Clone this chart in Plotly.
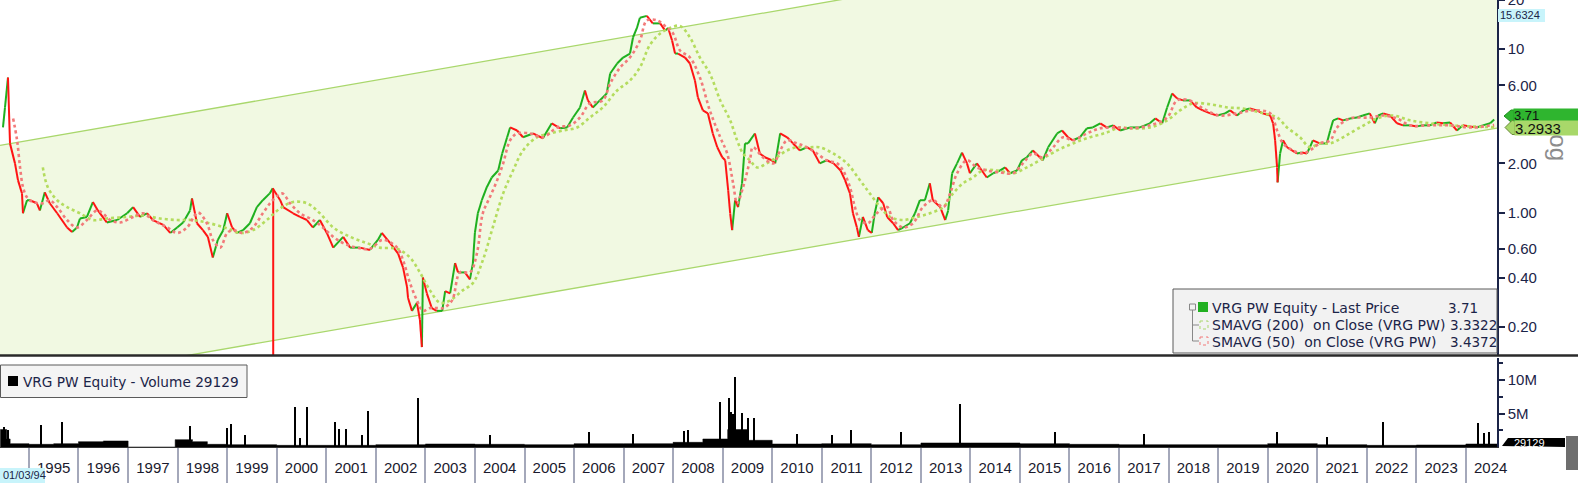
import math
from datetime import datetime
import plotly.graph_objects as go

W, H = 1578, 483

# ---------------- data (decimal years / prices) ----------------
price_t = [1994.475, 1994.516, 1994.576, 1994.617, 1994.718, 1994.778, 1994.859, 1994.879, 1994.96, 1995.02,
           1995.16, 1995.22, 1995.32, 1995.42, 1995.57, 1995.77, 1995.87, 1995.97, 1996.03, 1996.17,
           1996.29, 1996.39, 1996.57, 1996.78, 1996.98, 1997.10, 1997.24, 1997.38, 1997.50, 1997.71,
           1997.85, 1997.99, 1998.11, 1998.25, 1998.29, 1998.39, 1998.51, 1998.61, 1998.71, 1998.81,
           1998.92, 1999.00, 1999.10, 1999.20, 1999.32, 1999.46, 1999.60, 1999.72, 1999.86, 1999.92,
           2000.07, 2000.13, 2000.33, 2000.47, 2000.61, 2000.73, 2000.87, 2001.01, 2001.14, 2001.34,
           2001.48, 2001.68, 2001.88, 2002.04, 2002.12, 2002.29, 2002.45, 2002.55, 2002.63, 2002.65,
           2002.73, 2002.83, 2002.89, 2002.93, 2002.95, 2003.03, 2003.13, 2003.23, 2003.34, 2003.40,
           2003.50, 2003.60, 2003.66, 2003.80, 2003.90, 2003.96, 2004.00, 2004.06, 2004.14, 2004.24,
           2004.34, 2004.47, 2004.55, 2004.65, 2004.71, 2004.85, 2004.97, 2005.17, 2005.37, 2005.55,
           2005.72, 2005.86, 2005.98, 2006.12, 2006.22, 2006.28, 2006.38, 2006.52, 2006.66, 2006.73,
           2006.87, 2006.99, 2007.13, 2007.19, 2007.27, 2007.33, 2007.47, 2007.59, 2007.74, 2007.84,
           2007.90, 2007.98, 2008.04, 2008.10, 2008.24, 2008.34, 2008.44, 2008.50, 2008.60, 2008.70,
           2008.80, 2008.89, 2008.99, 2009.05, 2009.11, 2009.15, 2009.19, 2009.25, 2009.31, 2009.39,
           2009.45, 2009.51, 2009.65, 2009.75, 2009.85, 2009.99, 2010.06, 2010.16, 2010.30, 2010.42,
           2010.56, 2010.70, 2010.82, 2010.96, 2011.10, 2011.24, 2011.38, 2011.47, 2011.57, 2011.63,
           2011.71, 2011.75, 2011.83, 2011.93, 2012.01, 2012.07, 2012.14, 2012.24, 2012.32, 2012.44,
           2012.54, 2012.64, 2012.78, 2012.88, 2012.98, 2013.08, 2013.18, 2013.24, 2013.39, 2013.49,
           2013.55, 2013.63, 2013.73, 2013.83, 2013.93, 2013.99, 2014.13, 2014.23, 2014.33, 2014.46,
           2014.60, 2014.70, 2014.80, 2014.94, 2015.04, 2015.14, 2015.26, 2015.40, 2015.46, 2015.57,
           2015.75, 2015.85, 2015.97, 2016.07, 2016.21, 2016.35, 2016.47, 2016.62, 2016.75, 2016.88,
           2017.02, 2017.22, 2017.42, 2017.62, 2017.73, 2017.87, 2017.97, 2018.07, 2018.17, 2018.29,
           2018.43, 2018.57, 2018.69, 2018.84, 2018.98, 2019.14, 2019.24, 2019.38, 2019.50, 2019.64,
           2019.78, 2019.90, 2020.05, 2020.11, 2020.15, 2020.19, 2020.20, 2020.25, 2020.31, 2020.39,
           2020.49, 2020.59, 2020.69, 2020.79, 2020.85, 2020.91, 2021.05, 2021.19, 2021.26, 2021.32,
           2021.42, 2021.52, 2021.66, 2021.80, 2021.92, 2022.06, 2022.16, 2022.23, 2022.33, 2022.47,
           2022.61, 2022.73, 2022.87, 2023.01, 2023.13, 2023.27, 2023.41, 2023.54, 2023.68, 2023.82,
           2023.94, 2024.08, 2024.22, 2024.34, 2024.49, 2024.57]
price_v = [3.32, 4.40, 6.71, 2.65, 2.00, 1.58, 1.31, 0.99, 1.19, 1.19,
           1.14, 1.03, 1.33, 1.14, 0.99, 0.81, 0.76, 0.81, 0.92, 0.94,
           1.16, 1.03, 0.87, 0.90, 0.99, 1.08, 0.94, 0.99, 0.90, 0.84,
           0.75, 0.81, 0.87, 1.03, 1.22, 0.86, 0.78, 0.71, 0.53, 0.68,
           0.78, 0.99, 0.81, 0.75, 0.78, 0.86, 1.08, 1.19, 1.31, 1.41,
           1.19, 1.08, 0.99, 0.94, 0.90, 0.81, 0.90, 0.75, 0.61, 0.71,
           0.61, 0.61, 0.59, 0.68, 0.75, 0.65, 0.56, 0.46, 0.35, 0.30,
           0.25, 0.28, 0.22, 0.15, 0.40, 0.32, 0.26, 0.25, 0.25, 0.33,
           0.32, 0.49, 0.43, 0.43, 0.39, 0.49, 0.75, 0.99, 1.19, 1.43,
           1.64, 1.81, 2.30, 2.89, 3.32, 3.18, 2.89, 3.05, 2.85, 3.52,
           3.28, 3.32, 3.82, 4.40, 5.59, 4.86, 4.40, 4.86, 5.36, 7.10,
           8.18, 8.90, 9.41, 11.8, 13.5, 15.6, 16.0, 14.4, 14.4, 13.0,
           13.5, 11.3, 9.41, 9.41, 8.90, 8.18, 6.44, 5.07, 4.22, 4.05,
           3.05, 2.51, 2.18, 2.09, 1.37, 0.99, 0.78, 1.19, 1.08, 1.51,
           2.65, 2.65, 3.05, 2.30, 2.18, 2.09, 2.00, 3.05, 2.89, 2.65,
           2.40, 2.51, 2.40, 2.00, 2.09, 2.00, 1.81, 1.58, 1.31, 0.99,
           0.81, 0.71, 0.94, 0.78, 0.75, 0.99, 1.24, 1.14, 0.94, 0.86,
           0.78, 0.81, 0.86, 0.99, 1.19, 1.19, 1.51, 1.19, 1.08, 0.90,
           1.03, 1.74, 2.00, 2.33, 2.00, 1.74, 2.00, 1.81, 1.64, 1.74,
           1.81, 1.89, 1.74, 1.81, 2.09, 2.18, 2.40, 2.18, 2.09, 2.51,
           3.05, 3.18, 2.89, 2.77, 2.89, 3.28, 3.32, 3.52, 3.32, 3.42,
           3.18, 3.32, 3.32, 3.52, 3.77, 3.52, 4.40, 5.36, 5.00, 4.86,
           4.86, 4.40, 4.22, 4.05, 3.93, 4.05, 4.22, 3.93, 4.22, 4.34,
           4.22, 4.05, 3.93, 3.52, 2.77, 1.89, 1.53, 2.30, 2.77, 2.51,
           2.40, 2.30, 2.33, 2.30, 2.51, 2.77, 2.65, 2.65, 3.18, 3.67,
           3.77, 3.67, 3.77, 3.82, 3.93, 4.05, 3.52, 3.93, 4.05, 3.93,
           3.52, 3.42, 3.42, 3.37, 3.42, 3.42, 3.56, 3.52, 3.56, 3.18,
           3.42, 3.37, 3.32, 3.42, 3.52, 3.71]

sma50_t = [1994.68, 1994.76, 1994.82, 1994.88, 1994.96, 1995.08, 1995.28, 1995.42, 1995.57, 1995.77,
           1995.97, 1996.17, 1996.37, 1996.49, 1996.64, 1996.84, 1997.10, 1997.30, 1997.50, 1997.79,
           1997.99, 1998.19, 1998.41, 1998.59, 1998.71, 1998.86, 1999.00, 1999.12, 1999.32, 1999.52,
           1999.72, 1999.92, 2000.11, 2000.27, 2000.47, 2000.73, 2000.93, 2001.14, 2001.34, 2001.62,
           2001.88, 2002.14, 2002.43, 2002.55, 2002.69, 2002.83, 2002.95, 2003.09, 2003.23, 2003.36,
           2003.54, 2003.70, 2003.90, 2004.04, 2004.16, 2004.30, 2004.45, 2004.57, 2004.71, 2004.85,
           2005.11, 2005.37, 2005.66, 2005.92, 2006.12, 2006.32, 2006.58, 2006.73, 2006.93, 2007.13,
           2007.33, 2007.47, 2007.68, 2007.88, 2008.00, 2008.14, 2008.34, 2008.54, 2008.74, 2008.95,
           2009.09, 2009.21, 2009.29, 2009.41, 2009.55, 2009.61, 2009.81, 2010.02, 2010.16, 2010.30,
           2010.50, 2010.70, 2010.90, 2011.10, 2011.31, 2011.43, 2011.57, 2011.67, 2011.77, 2011.93,
           2012.11, 2012.32, 2012.44, 2012.64, 2012.84, 2013.04, 2013.24, 2013.45, 2013.59, 2013.73,
           2013.93, 2014.13, 2014.33, 2014.60, 2014.86, 2015.06, 2015.26, 2015.46, 2015.67, 2015.87,
           2016.07, 2016.35, 2016.62, 2016.96, 2017.22, 2017.62, 2017.97, 2018.17, 2018.43, 2018.69,
           2019.04, 2019.38, 2019.70, 2020.05, 2020.19, 2020.31, 2020.51, 2020.71, 2020.85, 2021.05,
           2021.26, 2021.40, 2021.66, 2022.06, 2022.33, 2022.61, 2022.87, 2023.27, 2023.68, 2024.08,
           2024.57]
sma50_v = [3.77, 2.77, 1.89, 1.43, 1.24, 1.16, 1.14, 1.19, 1.08, 0.90,
           0.81, 0.90, 1.03, 0.99, 0.90, 0.87, 0.94, 0.99, 0.90, 0.81,
           0.75, 0.81, 1.00, 0.86, 0.68, 0.61, 0.75, 0.78, 0.75, 0.81,
           0.99, 1.19, 1.31, 1.14, 0.99, 0.90, 0.81, 0.71, 0.65, 0.61,
           0.60, 0.68, 0.61, 0.51, 0.37, 0.29, 0.25, 0.26, 0.26, 0.26,
           0.29, 0.43, 0.43, 0.56, 0.99, 1.24, 1.58, 2.00, 2.77, 3.05,
           3.05, 2.89, 3.32, 3.42, 3.82, 4.66, 4.86, 6.17, 7.73, 8.90,
           11.3, 15.0, 15.0, 13.5, 12.5, 9.82, 8.90, 6.71, 4.22, 2.89,
           2.30, 1.51, 1.14, 1.43, 2.09, 2.51, 2.18, 2.00, 2.40, 2.77,
           2.65, 2.51, 2.30, 2.09, 2.00, 1.81, 1.43, 1.08, 0.90, 0.86,
           0.99, 1.08, 0.90, 0.81, 0.86, 1.08, 1.19, 1.08, 1.31, 1.74,
           2.09, 1.89, 1.81, 1.76, 1.74, 2.00, 2.30, 2.18, 2.51, 2.89,
           2.77, 3.05, 3.28, 3.32, 3.28, 3.42, 3.82, 4.86, 4.86, 4.34,
           3.93, 4.05, 4.22, 4.05, 3.18, 2.65, 2.40, 2.30, 2.40, 2.65,
           2.77, 3.32, 3.77, 3.82, 3.93, 3.77, 3.42, 3.42, 3.42, 3.32,
           3.44]

sma200_t = [1995.28, 1995.38, 1995.57, 1995.77, 1996.03, 1996.29, 1996.57, 1996.98, 1997.30, 1997.64,
            1997.99, 1998.31, 1998.65, 1999.00, 1999.26, 1999.52, 1999.80, 2000.07, 2000.33, 2000.61,
            2000.87, 2001.14, 2001.48, 2001.82, 2002.08, 2002.43, 2002.69, 2002.89, 2003.09, 2003.30,
            2003.50, 2003.76, 2003.96, 2004.16, 2004.36, 2004.57, 2004.77, 2004.97, 2005.25, 2005.51,
            2005.78, 2006.06, 2006.32, 2006.58, 2006.87, 2007.13, 2007.33, 2007.53, 2007.74, 2007.94,
            2008.14, 2008.34, 2008.54, 2008.74, 2008.95, 2009.15, 2009.29, 2009.41, 2009.55, 2009.69,
            2009.89, 2010.09, 2010.30, 2010.50, 2010.76, 2010.96, 2011.23, 2011.51, 2011.77, 2011.97,
            2012.18, 2012.38, 2012.64, 2012.92, 2013.18, 2013.45, 2013.65, 2013.85, 2014.05, 2014.25,
            2014.54, 2014.86, 2015.14, 2015.40, 2015.75, 2016.07, 2016.41, 2016.75, 2017.02, 2017.22,
            2017.62, 2017.97, 2018.23, 2018.49, 2018.84, 2019.19, 2019.50, 2019.84, 2020.19, 2020.39,
            2020.65, 2020.85, 2021.05, 2021.26, 2021.52, 2021.86, 2022.21, 2022.53, 2022.87, 2023.27,
            2023.68, 2024.08, 2024.57]
sma200_v = [1.89, 1.43, 1.19, 1.08, 0.99, 0.90, 0.92, 0.94, 0.96, 0.92,
            0.90, 0.90, 0.86, 0.80, 0.75, 0.78, 0.90, 1.06, 1.16, 1.14,
            0.99, 0.81, 0.71, 0.65, 0.61, 0.60, 0.53, 0.43, 0.335, 0.28,
            0.29, 0.335, 0.37, 0.51, 0.81, 1.31, 1.81, 2.40, 2.89, 3.05,
            3.18, 3.32, 3.82, 4.40, 5.59, 6.44, 7.73, 10.6, 12.5, 13.5,
            13.9, 11.8, 8.90, 7.10, 4.86, 3.67, 2.77, 2.30, 2.09, 1.89,
            2.00, 2.18, 2.40, 2.51, 2.51, 2.51, 2.30, 2.00, 1.58, 1.31,
            1.08, 0.94, 0.90, 0.94, 0.99, 1.08, 1.31, 1.51, 1.64, 1.81,
            1.81, 1.74, 1.89, 2.09, 2.40, 2.65, 2.89, 3.09, 3.32, 3.28,
            3.32, 3.67, 4.22, 4.66, 4.60, 4.40, 4.34, 4.10, 3.82, 3.32,
            2.89, 2.51, 2.65, 2.65, 2.89, 3.32, 3.77, 3.93, 3.67, 3.52,
            3.42, 3.37, 3.33]

# bad tick (single bar reaching far below the axis)
spike_t = [1999.93, 1999.93]
spike_v = [1.38, 0.01]

# trend channel (two parallel lines)
chan_t = [1994.415, 2024.627]
chan_lo = [0.0843, 3.2933]
chan_hi = [2.58, 100.0]

# volume, millions of shares: background level and single spikes
vol_base_t = [1994.42, 1994.55, 1994.62, 1995.0, 1995.5, 1996.0, 1996.5, 1997.0, 1997.95, 1998.3,
              1998.6, 1999.0, 1999.5, 2000.0, 2001.0, 2002.0, 2003.0, 2004.0, 2005.0, 2006.0,
              2007.0, 2008.0, 2008.6, 2009.1, 2009.5, 2010.0, 2011.0, 2012.0, 2013.0, 2014.0,
              2015.0, 2016.0, 2017.0, 2018.0, 2019.0, 2020.0, 2021.0, 2022.0, 2023.0, 2024.0,
              2024.63]
vol_base_v = [2.6, 1.2, 0.5, 0.4, 0.5, 0.8, 0.9, 0.0, 1.1, 0.8,
              0.4, 0.35, 0.35, 0.25, 0.25, 0.35, 0.45, 0.4, 0.35, 0.5,
              0.5, 0.7, 1.2, 2.6, 1.0, 0.45, 0.5, 0.35, 0.6, 0.6,
              0.5, 0.4, 0.35, 0.35, 0.35, 0.5, 0.35, 0.25, 0.3, 0.45,
              0.45]
vol_spike_t = [1994.50, 1994.58, 1995.24, 1995.67, 1998.25, 1998.99, 1999.08, 1999.36, 2000.37, 2000.47,
               2000.61, 2001.18, 2001.26, 2001.40, 2001.72, 2001.84, 2002.85, 2008.95, 2009.13, 2009.16,
               2009.25, 2009.21, 2009.39, 2009.51, 2009.63, 2008.22, 2013.79, 2022.33, 2024.24, 2024.36,
               2024.46, 2004.30, 2006.30, 2007.20, 2008.30, 2010.50, 2011.20, 2011.60, 2012.60, 2015.70,
               2017.50, 2020.20, 2021.20]
vol_spike_v = [3.0, 2.5, 3.3, 3.7, 3.1, 2.8, 3.4, 1.8, 6.0, 1.3,
               6.0, 3.7, 2.7, 2.7, 1.8, 5.4, 7.3, 6.7, 7.3, 5.2,
               10.4, 5.0, 5.1, 4.3, 4.3, 2.4, 6.4, 3.7, 3.6, 2.1,
               2.2, 1.8, 2.2, 2.0, 2.5, 2.0, 1.8, 2.5, 2.2, 2.3,
               2.0, 2.3, 1.5]

years = list(range(1995, 2025))
y_ticks = [0.2, 0.4, 0.6, 1, 2, 6, 10, 20]
y_ticktext = ['0.20', '0.40', '0.60', '1.00', '2.00', '6.00', '10', '20']

# ---------------- helpers ----------------
def d(y):
    yr = int(math.floor(y))
    a, b = datetime(yr, 1, 1), datetime(yr + 1, 1, 1)
    return a + (b - a) * (y - yr)

def px(x):
    return x / W

def py(y):
    return 1 - y / H

AX_FONT = "Liberation Sans, Arial, sans-serif"
LG_FONT = "DejaVu Sans, Verdana, sans-serif"
NAVY = "#1b2448"
GREEN = "#1fb01f"
RED = "#ff1414"
CH_LINE = "#a9d76c"
CH_FILL = "#f1f9e2"

fig = go.Figure()

# channel
fig.add_trace(go.Scatter(x=[d(t) for t in chan_t], y=chan_lo, mode="lines",
                         line=dict(color=CH_LINE, width=1.3), hoverinfo="skip"))
fig.add_trace(go.Scatter(x=[d(t) for t in chan_t], y=chan_hi, mode="lines", fill="tonexty",
                         fillcolor=CH_FILL, line=dict(color=CH_LINE, width=1.3), hoverinfo="skip"))

# price: rising legs green, falling legs red
gx, gy, rx, ry = [], [], [], []
for i in range(len(price_t) - 1):
    tx, ty = (gx, gy) if price_v[i + 1] >= price_v[i] else (rx, ry)
    tx += [d(price_t[i]), d(price_t[i + 1]), None]
    ty += [price_v[i], price_v[i + 1], None]
fig.add_trace(go.Scatter(x=gx, y=gy, mode="lines", line=dict(color=GREEN, width=2), hoverinfo="skip"))
fig.add_trace(go.Scatter(x=rx, y=ry, mode="lines", line=dict(color=RED, width=2), hoverinfo="skip"))
fig.add_trace(go.Scatter(x=[d(t) for t in spike_t], y=spike_v, mode="lines",
                         line=dict(color=RED, width=2), hoverinfo="skip"))

# moving averages
fig.add_trace(go.Scatter(x=[d(t) for t in sma200_t], y=sma200_v, mode="lines",
                         line=dict(color="#b4dc5e", width=2.6, dash="dot", shape="spline"), hoverinfo="skip"))
fig.add_trace(go.Scatter(x=[d(t) for t in sma50_t], y=sma50_v, mode="lines",
                         line=dict(color="#f27a7a", width=2.6, dash="dot", shape="spline"), hoverinfo="skip"))

# volume
fig.add_trace(go.Scatter(x=[d(t) for t in vol_base_t], y=[v * 1e6 for v in vol_base_v], mode="lines",
                         line=dict(color="black", width=0.5, shape="hv"), fill="tozeroy",
                         fillcolor="black", xaxis="x2", yaxis="y2", hoverinfo="skip"))
fig.add_trace(go.Bar(x=[d(t) for t in vol_spike_t], y=[v * 1e6 for v in vol_spike_v],
                     width=[9 * 86400000] * len(vol_spike_t), marker=dict(color="black", line=dict(width=0)),
                     xaxis="x2", yaxis="y2", hoverinfo="skip"))

x_range = [d(1994.415), d(2024.627)]
dom_x = [0, 1497 / W]

fig.update_layout(
    template="none",
    width=W, height=H, margin=dict(l=0, r=0, t=0, b=0, pad=0),
    paper_bgcolor="white", plot_bgcolor="white", showlegend=False,
    font=dict(family=AX_FONT, color=NAVY, size=15),
    xaxis=dict(domain=dom_x, range=x_range, anchor="y", showticklabels=False, ticks="",
               showgrid=False, zeroline=False, showline=False, automargin=False),
    yaxis=dict(domain=[py(355), 1], type="log", range=[-0.8722, 1.3015], side="right",
               tickvals=y_ticks, ticktext=y_ticktext, ticks="outside", ticklen=6, tickwidth=1.5,
               tickcolor=NAVY, showline=True, linecolor=NAVY, linewidth=1.5, showgrid=False,
               zeroline=False, automargin=False, ticklabeloverflow="allow",
               tickfont=dict(size=15, color=NAVY, family=AX_FONT)),
    xaxis2=dict(domain=dom_x, range=x_range, anchor="y2", matches="x",
                tickvals=[d(y + 0.5) for y in years], ticktext=[str(y) for y in years],
                ticks="", ticklabelstandoff=7, tickfont=dict(size=15, color="#1a1a2e", family=AX_FONT),
                minor=dict(tickvals=[d(y) for y in years], ticks="outside", ticklen=36,
                           tickwidth=1.5, tickcolor="#a4a8ba", showgrid=False),
                showgrid=False, zeroline=False, showline=True, linecolor="#333333", linewidth=1,
                automargin=False),
    yaxis2=dict(domain=[py(447), py(358)], range=[0, 13.3e6], side="right",
                tickvals=[5e6, 10e6], ticktext=["5M", "10M"], ticks="outside", ticklen=6,
                tickwidth=1.5, tickcolor=NAVY,
                minor=dict(tickvals=[2.5e6, 7.5e6, 12.5e6], ticks="outside", ticklen=4,
                           tickcolor=NAVY, showgrid=False),
                showline=True, linecolor=NAVY, linewidth=1.5, showgrid=False, zeroline=False,
                automargin=False, tickfont=dict(size=15, color=NAVY, family=AX_FONT)),
    bargap=0,
)

shapes = []
# panel separator
shapes.append(dict(type="line", xref="paper", yref="paper", x0=0, x1=1, y0=py(355.5), y1=py(355.5),
                   line=dict(color="#2a2a2a", width=2.5)))
# main legend box
shapes.append(dict(type="rect", xref="paper", yref="paper", x0=px(1173), x1=px(1497), y0=py(289), y1=py(353),
                   fillcolor="#f2f2f2", line=dict(color="#5a5a5a", width=1)))
# tree lines
shapes.append(dict(type="line", xref="paper", yref="paper", x0=px(1192.5), x1=px(1192.5), y0=py(310), y1=py(341),
                   line=dict(color="#888888", width=1)))
for yy in (325, 341):
    shapes.append(dict(type="line", xref="paper", yref="paper", x0=px(1192.5), x1=px(1199), y0=py(yy), y1=py(yy),
                       line=dict(color="#888888", width=1)))
shapes.append(dict(type="rect", xref="paper", yref="paper", x0=px(1189.5), x1=px(1195.5), y0=py(304), y1=py(310),
                   fillcolor="#f2f2f2", line=dict(color="#888888", width=1)))
shapes.append(dict(type="rect", xref="paper", yref="paper", x0=px(1198), x1=px(1208), y0=py(302), y1=py(312),
                   fillcolor="#22b022", line=dict(color="#22b022", width=0)))
shapes.append(dict(type="rect", xref="paper", yref="paper", x0=px(1200), x1=px(1208), y0=py(321), y1=py(329),
                   fillcolor="rgba(0,0,0,0)", line=dict(color="#a9d76c", width=1, dash="dot")))
shapes.append(dict(type="rect", xref="paper", yref="paper", x0=px(1200), x1=px(1208), y0=py(337), y1=py(345),
                   fillcolor="rgba(0,0,0,0)", line=dict(color="#f27a7a", width=1, dash="dot")))
# volume legend box
shapes.append(dict(type="rect", xref="paper", yref="paper", x0=px(0.5), x1=px(247), y0=py(365), y1=py(397.5),
                   fillcolor="#f4f4f4", line=dict(color="#5a5a5a", width=1)))
shapes.append(dict(type="rect", xref="paper", yref="paper", x0=px(8), x1=px(18), y0=py(376), y1=py(386),
                   fillcolor="black", line=dict(width=0)))
# right-hand price tags (pointed left ends)
shapes.append(dict(type="rect", xref="paper", yref="paper", x0=px(1498), x1=px(1545), y0=py(9), y1=py(22),
                   fillcolor="#c8f4fb", line=dict(width=0)))
shapes.append(dict(type="path", xref="paper", yref="paper",
                   path=f"M {px(1504)} {py(116)} L {px(1511)} {py(110)} L {px(1514)} {py(110)} L {px(1514)} {py(122)} L {px(1511)} {py(122)} Z",
                   fillcolor="#2fb52f", line=dict(color="#1f8f1f", width=1)))
shapes.append(dict(type="path", xref="paper", yref="paper",
                   path=f"M {px(1505)} {py(127.5)} L {px(1512)} {py(120.5)} L {px(1515)} {py(120.5)} L {px(1515)} {py(134.5)} L {px(1512)} {py(134.5)} Z",
                   fillcolor="#a8d86a", line=dict(color="#6a8a3a", width=1)))
# volume last-value tag and grey tab
shapes.append(dict(type="path", xref="paper", yref="paper",
                   path=f"M {px(1502)} {py(446)} L {px(1508)} {py(438)} L {px(1565)} {py(438)} L {px(1565)} {py(447)} Z",
                   fillcolor="black", line=dict(width=0)))
shapes.append(dict(type="rect", xref="paper", yref="paper", x0=px(1566), x1=px(1578), y0=py(436), y1=py(470),
                   fillcolor="#6e6e6e", line=dict(width=0)))
# start-date tag
shapes.append(dict(type="rect", xref="paper", yref="paper", x0=0, x1=px(45), y0=py(468), y1=py(483),
                   fillcolor="#c8f4fb", line=dict(width=0)))
fig.update_layout(shapes=shapes)

ann = []
def text(x, y, s, size=15, color=NAVY, family=LG_FONT, xanchor="left", **kw):
    ann.append(dict(x=px(x), y=py(y), xref="paper", yref="paper", text=s, showarrow=False,
                    xanchor=xanchor, yanchor="middle", font=dict(size=size, color=color, family=family), **kw))

text(1210, 307.5, "VRG PW Equity - Last Price", size=14)
text(1210, 325, "SMAVG (200)  on Close (VRG PW)", size=14)
text(1210, 341.5, "SMAVG (50)  on Close (VRG PW)", size=14)
text(1446, 307.5, "3.71", size=13.5)
text(1448, 325, "3.3322", size=13.5)
text(1448, 341.5, "3.4372", size=13.5)
text(21, 381.5, "VRG PW Equity - Volume 29129", size=13.7)
text(1498, 15.5, "15.6324", size=11, family=AX_FONT)
text(1559, 141, "Log", size=24, color="#8c8c8c", family=AX_FONT, xanchor="center", textangle=90)
# tags drawn after the rotated label so that they cover it
ann.append(dict(x=px(1513), y=py(115.5), xref="paper", yref="paper", text="3.71", showarrow=False,
                xanchor="left", yanchor="middle", align="left", width=65, height=12, borderpad=0,
                bgcolor="#2fb52f", font=dict(size=13, color="#111111", family=AX_FONT)))
ann.append(dict(x=px(1514), y=py(127.5), xref="paper", yref="paper", text="3.2933", showarrow=False,
                xanchor="left", yanchor="middle", align="left", width=64, height=14, borderpad=0,
                bgcolor="#a8d86a", font=dict(size=15, color="#111111", family=AX_FONT)))
text(1512, 443, "29129", size=11, color="white", family=AX_FONT)
text(1, 475, "01/03/94", size=11, family=AX_FONT)
fig.update_layout(annotations=ann)

# the page body has a default 8px margin; remove it so the figure fills the window
fig.write_html("out.html", config={"displayModeBar": False},
               post_script="document.body.style.margin='0px';document.body.style.overflow='hidden';")
